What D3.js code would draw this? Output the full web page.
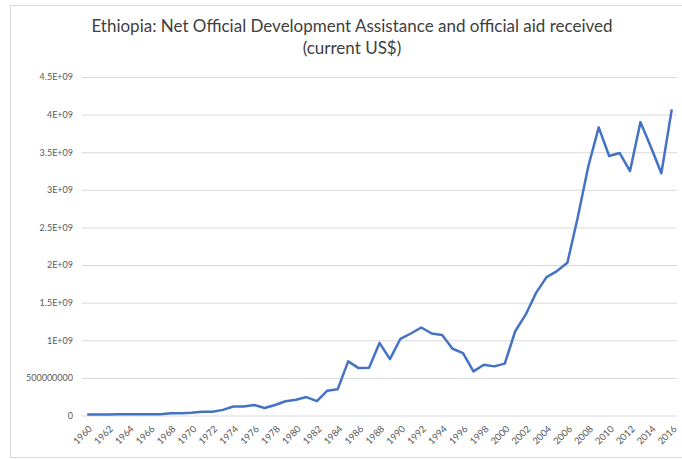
<!DOCTYPE html>
<html>
<head>
<meta charset="utf-8">
<script src="https://cdn.jsdelivr.net/npm/d3@7"></script>
<style>
  body { margin: 0; background: #fff; }
  text { font-family: Lato, "Open Sans", sans-serif; }
</style>
</head>
<body>
<div id="graph"></div>
<script>
// Ethiopia net ODA received, current US$
const years = d3.range(1960, 2017);
const aid = [
  0.013e9, 0.013e9, 0.014e9, 0.015e9, 0.015e9, 0.016e9, 0.016e9, 0.018e9, 0.030e9, 0.030e9,
  0.035e9, 0.050e9, 0.050e9, 0.075e9, 0.120e9, 0.120e9, 0.140e9, 0.100e9, 0.140e9, 0.190e9,
  0.210e9, 0.245e9, 0.190e9, 0.330e9, 0.350e9, 0.720e9, 0.630e9, 0.635e9, 0.965e9, 0.750e9,
  1.020e9, 1.090e9, 1.170e9, 1.090e9, 1.070e9, 0.887e9, 0.830e9, 0.587e9, 0.675e9, 0.653e9,
  0.690e9, 1.120e9, 1.340e9, 1.630e9, 1.840e9, 1.920e9, 2.030e9, 2.640e9, 3.310e9, 3.830e9,
  3.450e9, 3.490e9, 3.250e9, 3.900e9, 3.570e9, 3.220e9, 4.070e9
];
const yTicks = [0, 0.5e9, 1e9, 1.5e9, 2e9, 2.5e9, 3e9, 3.5e9, 4e9, 4.5e9];
const yTickLabels = ['0', '500000000', '1E+09', '1.5E+09', '2E+09', '2.5E+09', '3E+09', '3.5E+09', '4E+09', '4.5E+09'];
const xTickYears = years.filter(y => y % 2 === 0);
const titleLines = ['Ethiopia: Net Official Development Assistance and official aid received', '(current US$)'];

const graph = { width: 682, height: 459 };

const svg = d3.select('#graph').append('svg')
  .attr('width', graph.width)
  .attr('height', graph.height);

// chart border
svg.append('rect')
  .attr('x', 10.5).attr('y', 5.5)
  .attr('width', 690).attr('height', 452)
  .attr('fill', 'none').attr('stroke', '#d9d9d9');

const x = d3.scalePoint().domain(years).range([82, 677]).padding(0.5);
const y = d3.scaleLinear().domain([0, 4.5e9]).range([415.5, 77]);

// gridlines + y labels
const yAxis = svg.append('g')
  .attr('transform', 'translate(82,0)')
  .call(d3.axisLeft(y).tickValues(yTicks)
    .tickSize(-595).tickPadding(9)
    .tickFormat((d, i) => yTickLabels[i]));
yAxis.select('.domain').remove();
yAxis.selectAll('.tick line').attr('stroke', '#d9d9d9');
yAxis.selectAll('.tick text')
  .attr('fill', '#595959')
  .style('font-size', '9px');

// x labels, rotated
const xAxis = svg.append('g')
  .attr('transform', 'translate(0,415.5)')
  .call(d3.axisBottom(x).tickValues(xTickYears).tickSize(0).tickPadding(0));
xAxis.select('.domain').remove();
xAxis.selectAll('.tick text')
  .attr('fill', '#595959')
  .style('font-size', '9.5px')
  .attr('text-anchor', 'end')
  .attr('dy', 0)
  .attr('transform', 'translate(5,14) rotate(-45)');

// data line
svg.append('path')
  .datum(years.map((yr, i) => ({ yr, v: aid[i] })))
  .attr('fill', 'none')
  .attr('stroke', '#4472C4')
  .attr('stroke-width', 2.5)
  .attr('stroke-linejoin', 'round')
  .attr('d', d3.line().x(d => x(d.yr)).y(d => y(d.v)));

// title
svg.selectAll('.title')
  .data(titleLines)
  .enter().append('text')
    .attr('class', 'title')
    .attr('x', 352)
    .attr('y', (d, i) => 32 + i * 22)
    .attr('text-anchor', 'middle')
    .attr('fill', '#404040')
    .style('font-size', '17px')
    .text(d => d);
</script>
</body>
</html>
